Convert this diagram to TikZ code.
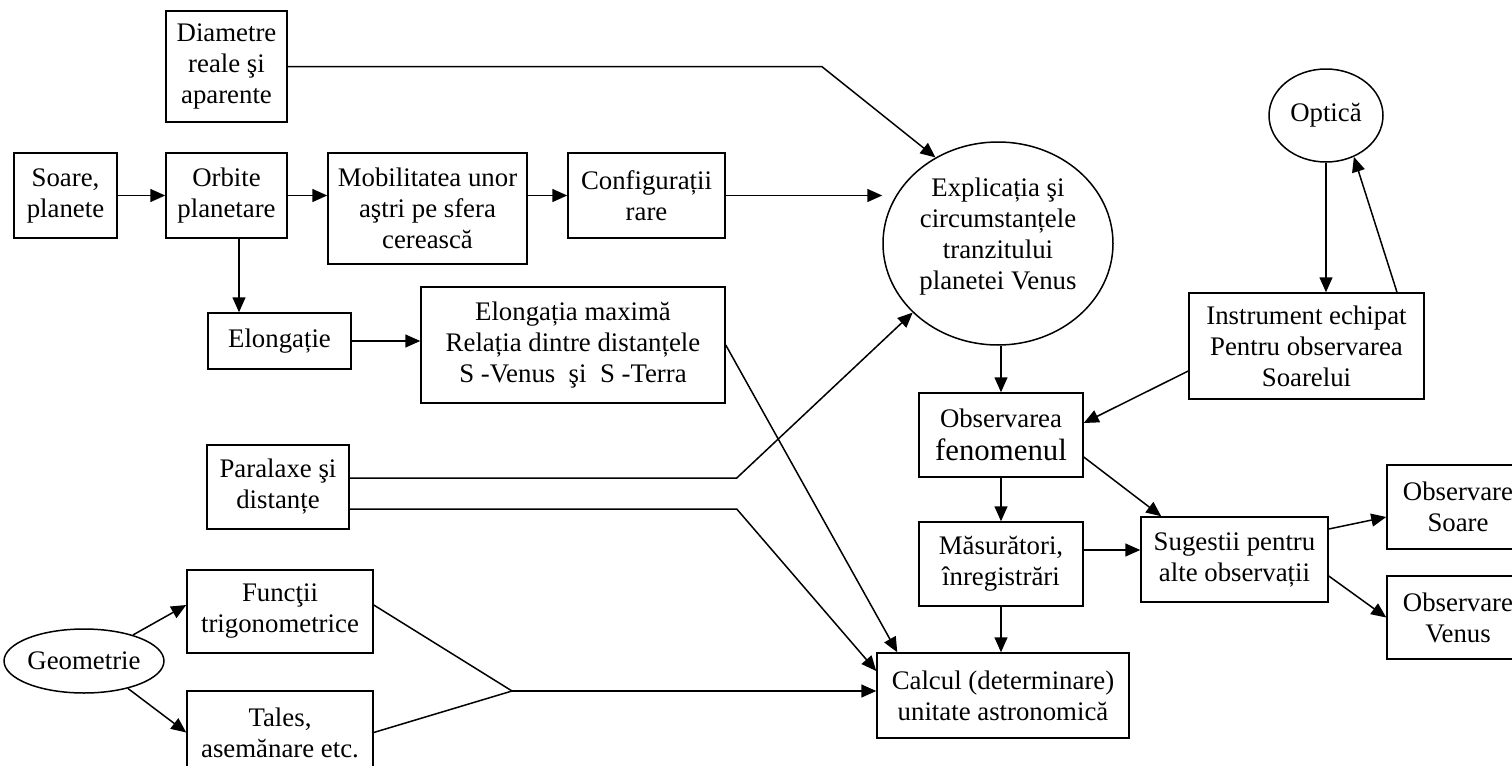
\documentclass[tikz,border=0pt]{standalone}
\usepackage{fontspec}
\setmainfont{Liberation Serif}
\usetikzlibrary{arrows.meta, positioning, shapes.geometric, calc}

\begin{document}
\begin{tikzpicture}[>={Triangle[length=7.5pt, width=6.5pt]}, x=0.5pt, y=-0.5pt,
  line width=0.75pt,
  box/.style={draw, align=center, inner sep=1pt,
              font=\fontsize{13.4}{15.5}\selectfont},
  oval/.style={draw, ellipse, align=center, inner sep=0pt,
               font=\fontsize{13.4}{15.5}\selectfont}]
  \useasboundingbox (0,0) rectangle (1512,766);
  \clip (0,0) rectangle (1512,766);

  % Upper row
  \node[box, minimum width=60.5pt, minimum height=55.5pt] (diam) at (226.5,66.5)
    {Diametre\\reale şi\\aparente};
  \node[box, minimum width=51.5pt, minimum height=42.5pt] (soare) at (65.5,195.5)
    {Soare,\\planete};
  \node[box, minimum width=60.5pt, minimum height=42.5pt] (orbite) at (226.5,195.5)
    {Orbite\\planetare};
  \node[box, minimum width=99.5pt, minimum height=55.5pt] (mobil) at (427.5,208.5)
    {Mobilitatea unor\\aştri pe sfera\\cerească};
  \node[box, minimum width=78.5pt, minimum height=42.5pt] (config) at (646.5,195.5)
    {Configurații\\rare};
  \node[oval, minimum width=115pt, minimum height=101.5pt, text depth=10pt] (expl) at (998,243.5)
    {Explicația şi\\circumstanțele\\tranzitului\\planetei Venus};
  \node[oval, minimum width=57pt, minimum height=46.5pt] (optica) at (1326,115.5)
    {Optică};

  % Middle
  \node[box, minimum width=71.5pt, minimum height=28pt] (elong) at (279.5,341)
    {Elongație};
  \node[box, minimum width=152pt, minimum height=58pt] (elmax) at (573,345)
    {Elongația maximă\\Relația dintre distanțele\\S -Venus\ \ şi\ \ S -Terra};
  \node[box, minimum width=117.5pt, minimum height=53pt] (instr) at (1306.5,346)
    {Instrument echipat\\Pentru observarea\\Soarelui};
  \node[box, minimum width=71pt, minimum height=42pt] (paral) at (278,487)
    {Paralaxe şi\\distanțe};
  \node[box, minimum width=82pt, minimum height=42pt] (obsf) at (1001,435)
    {Observarea\\[1pt]{\fontsize{15.4}{17}\selectfont fenomenul}};
  \node[box, minimum width=82pt, minimum height=42pt] (masur) at (1001,564)
    {Măsurători,\\înregistrări};
  \node[box, minimum width=93.5pt, minimum height=42.5pt] (suges) at (1234.5,559.5)
    {Sugestii pentru\\alte observații};
  \node[box, minimum width=71pt, minimum height=42pt] (obss) at (1458,507)
    {Observare\\Soare};
  \node[box, minimum width=71pt, minimum height=41.5pt] (obsv) at (1458,617.5)
    {Observare\\Venus};

  % Lower row
  \node[oval, minimum width=70pt, minimum height=32pt] (geom) at (84,661)
    {Geometrie};
  \node[box, minimum width=93pt, minimum height=41.5pt] (func) at (280,611.5)
    {Funcţii\\trigonometrice};
  \node[box, minimum width=93pt, minimum height=41.5pt] (tales) at (280,732.5)
    {Tales,\\asemănare etc.};
  \node[box, minimum width=126pt, minimum height=42.5pt] (calcul) at (1003,695.5)
    {Calcul (determinare)\\unitate astronomică};
  \coordinate (join) at (512,691);

  % Arrows
  \draw[->] (soare) -- (orbite);
  \draw[->] (orbite.east) -- (orbite.east -| mobil.west);
  \draw[->] (config.west -| mobil.east) -- (config.west);
  \draw[->] (config.east) -- (config.east -| expl.west);
  \draw[->] (diam.east) -- ++(534,0) -- (expl.126);
  \draw[->] ([xshift=6.25pt]orbite.south) -- ([xshift=6.25pt]orbite.south |- elong.north);
  \draw[->] (elong.east) -- (elong.east -| elmax.west);
  \draw[->] (elmax.east) -- ([xshift=10.5pt]calcul.north west);
  \draw[->] ([yshift=4.5pt]paral.east) -- ++(387,0) -- (expl.219);
  \draw[->] ([yshift=-11pt]paral.east) -- ++(387,0) -- ([yshift=12.25pt]calcul.west);
  \draw ([yshift=3.25pt]func.east) -- (join);
  \draw (tales.east) -- (join);
  \draw[->] (join) -- (join -| calcul.west);
  \draw[->] (geom.28) -- ([yshift=3.25pt]func.west);
  \draw[->] (geom.-32) -- (tales.west);
  \draw[->] (obsf.north |- expl.south) -- (obsf.north);
  \draw[->] (optica.south) -- (optica.south |- instr.north);
  \draw[->] ([xshift=45.25pt]instr.north) -- (optica.-56);
  \draw[->] ([yshift=-12.5pt]instr.west) -- ([yshift=6pt]obsf.east);
  \draw[->] (obsf) -- (masur);
  \draw[->] ([yshift=-11pt]obsf.east) -- ([xshift=10.5pt]suges.north west);
  \draw[->] ([yshift=7pt]masur.east) -- ([yshift=7pt]masur.east -| suges.west);
  \draw[->] (masur.south) -- (masur.south |- calcul.north);
  \draw[->] ([yshift=15.25pt]suges.east) -- ([yshift=-5pt]obss.west);
  \draw[->] ([yshift=-8.25pt]suges.east) -- (obsv.west);
\end{tikzpicture}
\end{document}
